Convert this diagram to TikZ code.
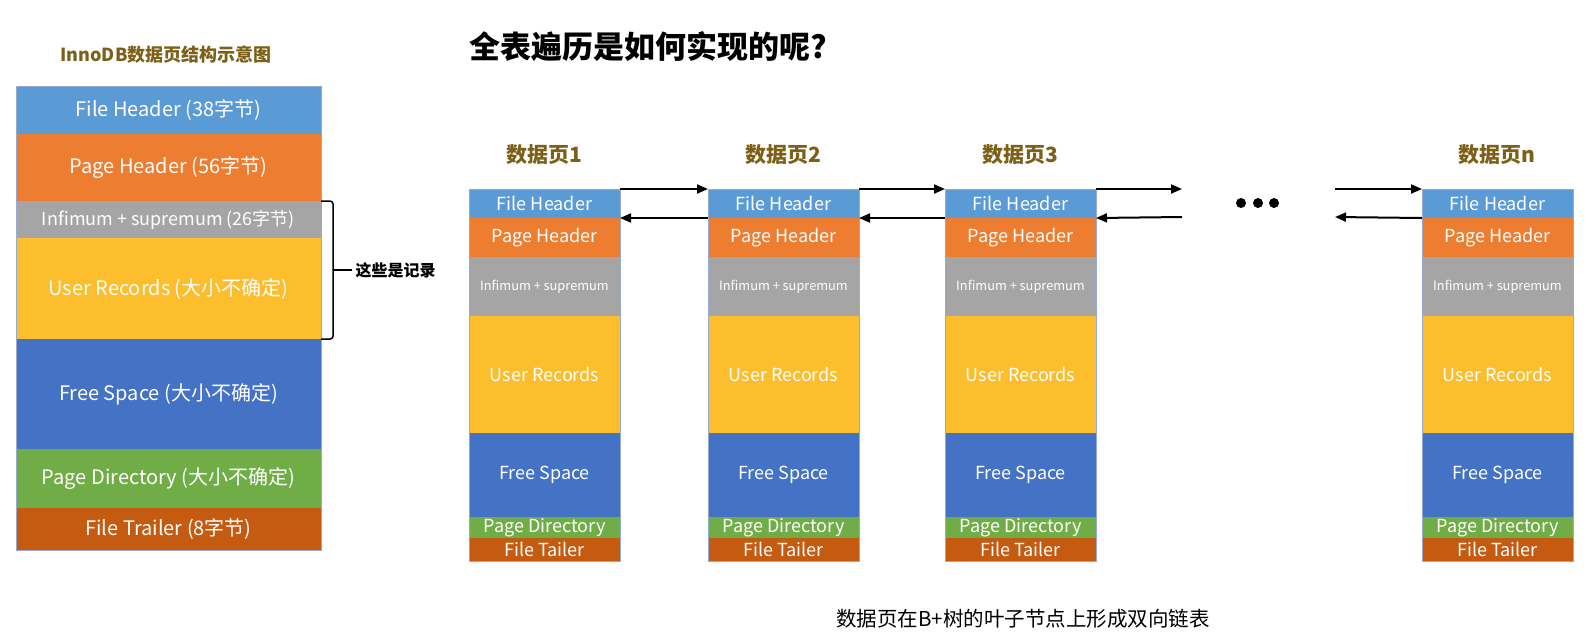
\documentclass[tikz,border=0pt]{standalone}
\usepackage{fontspec}
\setmainfont{Noto Sans CJK SC}
\usetikzlibrary{arrows.meta}
\definecolor{cfh}{RGB}{91,155,213}
\definecolor{cph}{RGB}{237,125,49}
\definecolor{cis}{RGB}{165,165,165}
\definecolor{cur}{RGB}{252,190,45}
\definecolor{cfs}{RGB}{68,114,196}
\definecolor{cpd}{RGB}{112,173,71}
\definecolor{cft}{RGB}{197,90,17}
\definecolor{cgold}{RGB}{125,96,24}
\definecolor{cedge}{RGB}{150,170,210}
\newcommand\datapage[3]{%
  \node[pglabel] (#1lab) at ({#2+75},155) {数据页#3};
  \node[sec,fill=cfh,minimum height=29pt] (#1fh) at (#2,189) {File Header};
  \node[sec,fill=cph,minimum height=39pt] (#1ph) at (#2,218) {Page Header};
  \node[sec,fill=cis,minimum height=59pt,font=\fontsize{12.8}{12.8}\selectfont] (#1is) at (#2,257) {Infimum + supremum};
  \node[sec,fill=cur,minimum height=117pt] (#1ur) at (#2,316) {User Records};
  \node[sec,fill=cfs,minimum height=84pt] (#1fs) at (#2,433) {Free Space};
  \node[sec,fill=cpd,minimum height=21pt] (#1pd) at (#2,517) {Page Directory};
  \node[sec,fill=cft,minimum height=23pt] (#1ft) at (#2,538) {File Tailer};
  \draw[edge] (#1fh.north west) rectangle (#1ft.south east);
}
\begin{document}
\begin{tikzpicture}[x=1pt,y=-1pt,
  sec/.style={rectangle,inner sep=0pt,outer sep=0pt,anchor=north west,text=white,
    minimum width=151pt,font=\fontsize{18}{18}\selectfont},
  lsec/.style={rectangle,inner sep=0pt,outer sep=0pt,anchor=north west,text=white,
    minimum width=305pt,font=\fontsize{20}{20}\selectfont},
  edge/.style={draw=cedge,line width=0.7pt},
  pglabel/.style={text=cgold,font=\bfseries\fontsize{21}{21}\selectfont},
  arr/.style={line width=2pt,-{Triangle[length=11pt,width=9pt]}},
  dot/.style={circle,fill=black,inner sep=0pt,minimum size=10pt}]
\useasboundingbox (0,0) rectangle (1590,638);

% left stack
\node[text=cgold,font=\bfseries\fontsize{18}{18}\selectfont] (ltitle) at (166,55) {InnoDB数据页结构示意图};
\node[lsec,fill=cfh,minimum height=48pt] (lfh) at (16,86) {File Header (38字节)};
\node[lsec,fill=cph,minimum height=67pt] (lph) at (16,134) {Page Header (56字节)};
\node[lsec,fill=cis,minimum height=37pt,font=\fontsize{18}{18}\selectfont] (lis) at (16,201) {Infimum + supremum (26字节)};
\node[lsec,fill=cur,minimum height=101pt] (lur) at (16,238) {User Records (大小不确定)};
\node[lsec,fill=cfs,minimum height=110pt] (lfs) at (16,339) {Free Space (大小不确定)};
\node[lsec,fill=cpd,minimum height=59pt] (lpd) at (16,449) {Page Directory (大小不确定)};
\node[lsec,fill=cft,minimum height=42pt] (lft) at (16,508) {File Trailer (8字节)};
\draw[edge] (lfh.north west) rectangle (lft.south east);

% brace
\coordinate (bt) at (333,201);
\coordinate (bb) at (333,339);
\coordinate (bm) at (333,270);
\draw[line width=1.5pt,rounded corners=3pt] (lis.north east) -- (bt) -- (bb) -- (lur.south east);
\node[anchor=west,font=\bfseries\fontsize{16}{16}\selectfont] (brl) at (352,270) {这些是记录};
\draw[line width=1.5pt] (bm) -- (brl.west);

% main title
\node[anchor=west,font=\bfseries\fontsize{31}{31}\selectfont] (title) at (466,47) {全表遍历是如何实现的呢?};

% pages
\datapage{p1}{469}{1}
\datapage{p2}{708}{2}
\datapage{p3}{945}{3}
\datapage{pn}{1422}{n}

% links
\draw[arr] (p1fh.north east) -- (p2fh.north west);
\draw[arr] (p2fh.south west) -- (p1fh.south east);
\draw[arr] (p2fh.north east) -- (p3fh.north west);
\draw[arr] (p3fh.south west) -- (p2fh.south east);
\coordinate (ga) at (1182,189);
\coordinate (gb) at (1182,217);
\coordinate (gc) at (1335,189);
\coordinate (gd) at (1335,217);
\draw[arr] (p3fh.north east) -- (ga);
\draw[arr] (gb) -- (p3fh.south east);
\draw[arr] (gc) -- (pnfh.north west);
\draw[arr] (pnfh.south west) -- (gd);
\node[dot] (d1) at (1241,203) {};
\node[dot] (d2) at (1258,203) {};
\node[dot] (d3) at (1274,203) {};

% caption
\node[font=\fontsize{20.5}{20.5}\selectfont] (cap) at (1023,619) {数据页在B+树的叶子节点上形成双向链表};
\end{tikzpicture}
\end{document}
